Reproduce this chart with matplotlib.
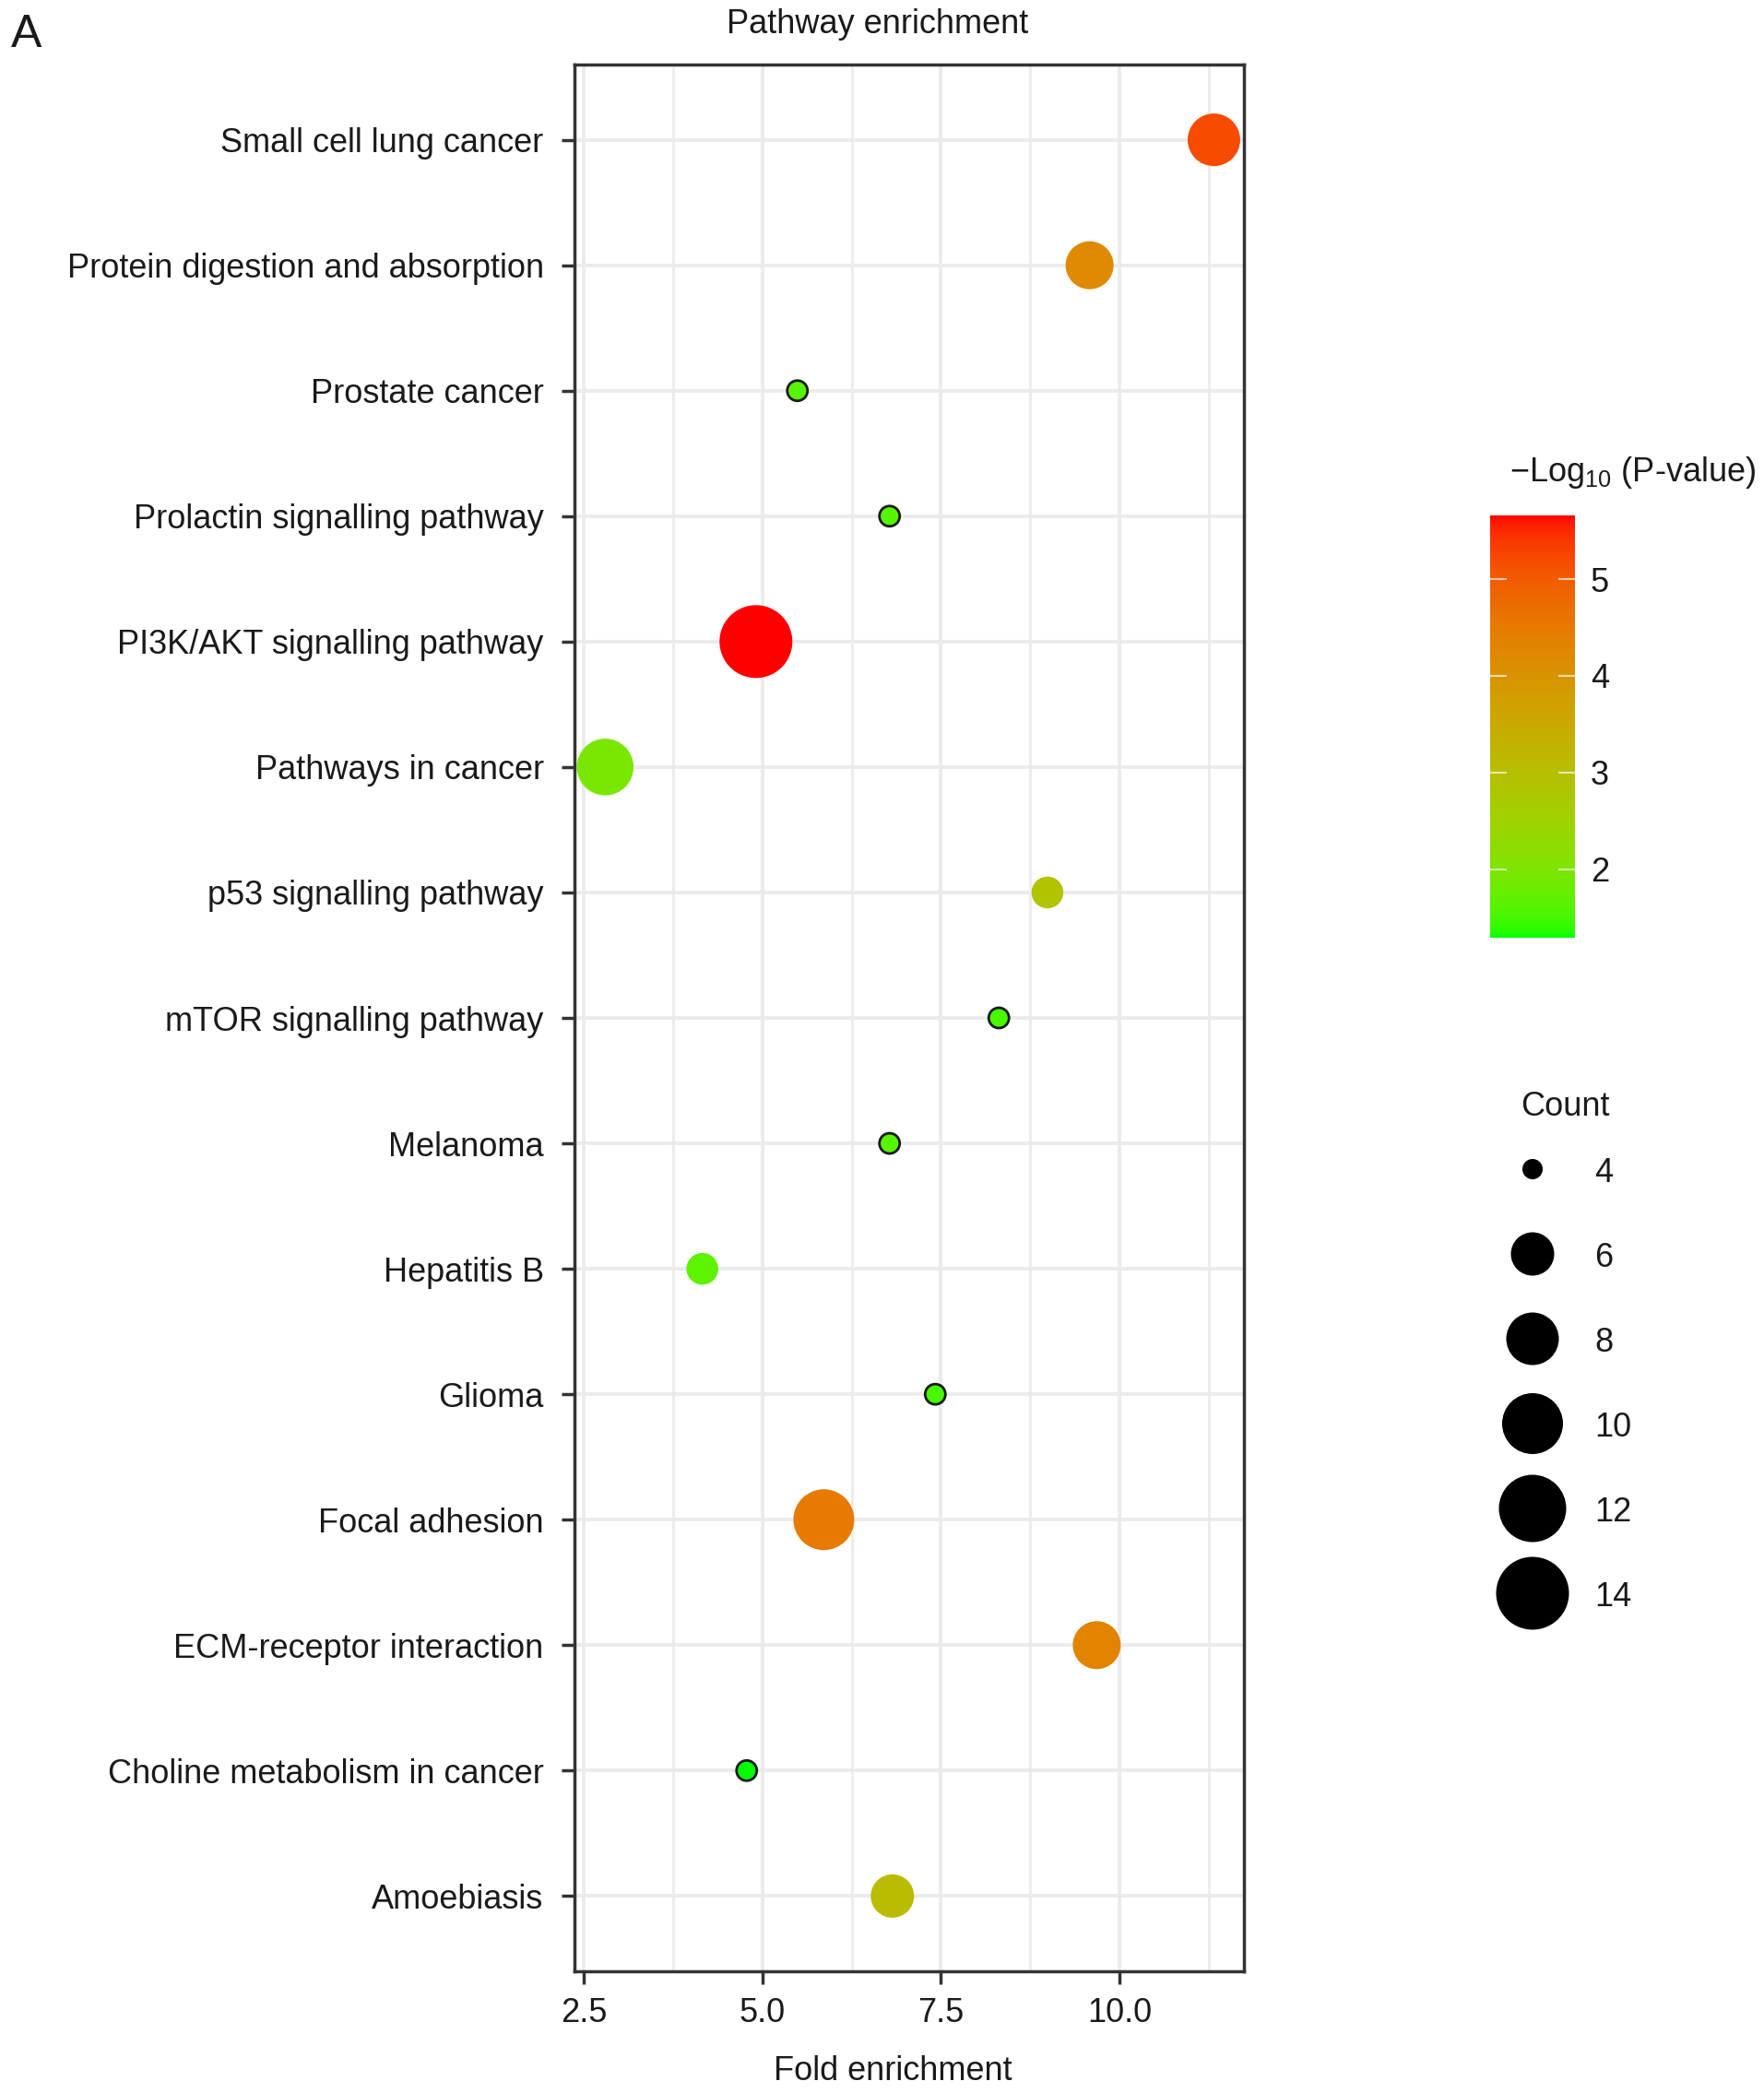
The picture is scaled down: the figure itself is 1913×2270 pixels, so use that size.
import numpy as np
import matplotlib
matplotlib.use("Agg")
import matplotlib.pyplot as plt
from matplotlib.colors import ListedColormap, Normalize

plt.rcParams['font.family'] = ['Liberation Sans', 'DejaVu Sans']
plt.rcParams['mathtext.default'] = 'regular'

# data, top row first
pathways = [
    'Small cell lung cancer', 'Protein digestion and absorption', 'Prostate cancer',
    'Prolactin signalling pathway', 'PI3K/AKT signalling pathway', 'Pathways in cancer',
    'p53 signalling pathway', 'mTOR signalling pathway', 'Melanoma', 'Hepatitis B',
    'Glioma', 'Focal adhesion', 'ECM-receptor interaction',
    'Choline metabolism in cancer', 'Amoebiasis',
]
fold_enrichment = [11.32, 9.58, 5.49, 6.78, 4.91, 2.80, 8.99, 8.31, 6.78, 4.16,
                   7.42, 5.86, 9.68, 4.78, 6.82]
neg_log_p = [5.20, 4.20, 1.60, 1.60, 5.66, 1.95, 2.90, 1.50, 1.60, 1.65,
             1.50, 4.50, 4.30, 1.29, 3.05]
counts = [8, 7, 4, 4, 14, 9, 5, 4, 4, 5, 4, 10, 7, 4, 6]

size_breaks = [4, 6, 8, 10, 12, 14]
size_diam_px = [22, 47, 57, 66, 73, 79]   # legend key diameters
cbar_ticks = [2, 3, 4, 5]
x_ticks = [2.5, 5.0, 7.5, 10.0]

FS = 26
TXT = '#1a1a1a'


# ggplot-like gradient green -> red, interpolated in CIELAB
def _to_lab(rgb):
    c = np.asarray(rgb, float)
    lin = np.where(c <= 0.04045, c / 12.92, ((c + 0.055) / 1.055) ** 2.4)
    M = np.array([[0.4124, 0.3576, 0.1805], [0.2126, 0.7152, 0.0722], [0.0193, 0.1192, 0.9505]])
    xyz = M @ lin / np.array([0.95047, 1.0, 1.08883])
    d = 6 / 29
    f = np.where(xyz > d ** 3, np.cbrt(xyz), xyz / (3 * d * d) + 4 / 29)
    return np.array([116 * f[1] - 16, 500 * (f[0] - f[1]), 200 * (f[1] - f[2])])


def _from_lab(lab):
    L, a, b = lab
    fy = (L + 16) / 116
    fx = fy + a / 500
    fz = fy - b / 200
    d = 6 / 29
    f = np.array([fx, fy, fz])
    xyz = np.where(f > d, f ** 3, 3 * d * d * (f - 4 / 29)) * np.array([0.95047, 1.0, 1.08883])
    Minv = np.linalg.inv(np.array([[0.4124, 0.3576, 0.1805], [0.2126, 0.7152, 0.0722],
                                   [0.0193, 0.1192, 0.9505]]))
    lin = np.clip(Minv @ xyz, 0, 1)
    c = np.where(lin <= 0.0031308, 12.92 * lin, 1.055 * lin ** (1 / 2.4) - 0.055)
    return np.clip(c, 0, 1)


lab_lo, lab_hi = _to_lab([0, 1, 0]), _to_lab([1, 0, 0])
cmap = ListedColormap([_from_lab(lab_lo + t * (lab_hi - lab_lo)) for t in np.linspace(0, 1, 256)])
norm = Normalize(vmin=min(neg_log_p), vmax=max(neg_log_p))


def size_pt2(c):
    d = np.interp(c, size_breaks, size_diam_px) * 0.72  # px -> pt at dpi 100
    return d ** 2


W, H = 1913, 2270
fig = plt.figure(figsize=(W / 100, H / 100), dpi=100)

# main panel
ax = fig.add_axes([623 / W, 1 - 2138 / H, (1349 - 623) / W, (2138 - 70) / H])
ypos = np.arange(len(pathways))[::-1] + 1
edge = ['#1a1a1a' if c == min(counts) else 'none' for c in counts]
ax.scatter(fold_enrichment, ypos, s=size_pt2(counts), c=neg_log_p, cmap=cmap, norm=norm,
           edgecolors=edge, linewidths=2.0, zorder=3)
ax.set_xlim(2.37, 11.74)
ax.set_ylim(0.4, len(pathways) + 0.6)
ax.set_xticks(x_ticks)
ax.set_xticklabels([f'{v:.1f}' for v in x_ticks])
ax.set_xticks([3.75, 6.25, 8.75, 11.25], minor=True)
ax.set_yticks(ypos)
ax.set_yticklabels(pathways)
ax.grid(which='major', color='#EBEBEB', linewidth=2.8, zorder=0)
ax.grid(which='minor', axis='x', color='#EBEBEB', linewidth=2.0, zorder=0)
ax.set_axisbelow(True)
for sp in ax.spines.values():
    sp.set_color('#333333')
    sp.set_linewidth(2.5)
ax.tick_params(which='major', length=10, width=2.5, color='#333333',
               labelsize=FS, labelcolor=TXT, pad=10)
ax.tick_params(axis='y', pad=14)
ax.tick_params(which='minor', length=0)
fig.text(968 / W, 1 - 2246 / H, 'Fold enrichment', ha='center', va='center',
         fontsize=FS, color=TXT)
fig.text(952 / W, 1 - 26 / H, 'Pathway enrichment', ha='center', va='center',
         fontsize=FS, color=TXT)
fig.text(12 / W, 1 - 38 / H, 'A', ha='left', va='center', fontsize=36, color=TXT)

# colour bar
cax = fig.add_axes([1616 / W, 1 - 1017 / H, 92 / W, 458 / H])
grad = np.linspace(norm.vmin, norm.vmax, 256).reshape(-1, 1)
cax.imshow(grad, aspect='auto', cmap=cmap, norm=norm, origin='lower',
           extent=[0, 1, norm.vmin, norm.vmax])
cax.set_xticks([])
cax.set_yticks(cbar_ticks)
cax.yaxis.tick_right()
cax.tick_params(axis='y', direction='in', left=True, right=True, labelleft=False,
                labelright=True, length=13, width=1.5, color='#FFFFFFAA',
                labelsize=FS, labelcolor=TXT, pad=12)
for sp in cax.spines.values():
    sp.set_visible(False)
fig.text(1637 / W, 1 - 512 / H, '\u2212Log$_{10}$ (P-value)', ha='left', va='center',
         fontsize=FS, color=TXT)

# size legend
lax = fig.add_axes([1600 / W, 1 - 1780 / H, 200 / W, 610 / H])
lax.set_xlim(0, 200)
lax.set_ylim(610, 0)
lax.axis('off')
key_y = 98 + 92 * np.arange(len(size_breaks))
lax.scatter([62] * len(size_breaks), key_y, s=size_pt2(size_breaks), color='black',
            edgecolors='none')
for yy, b in zip(key_y, size_breaks):
    lax.text(129, yy + 5, str(b), ha='left', va='center', fontsize=FS, color=TXT)
lax.text(49, 31, 'Count', ha='left', va='center', fontsize=FS, color=TXT)

fig.savefig('out.png', dpi=100, facecolor='white')
